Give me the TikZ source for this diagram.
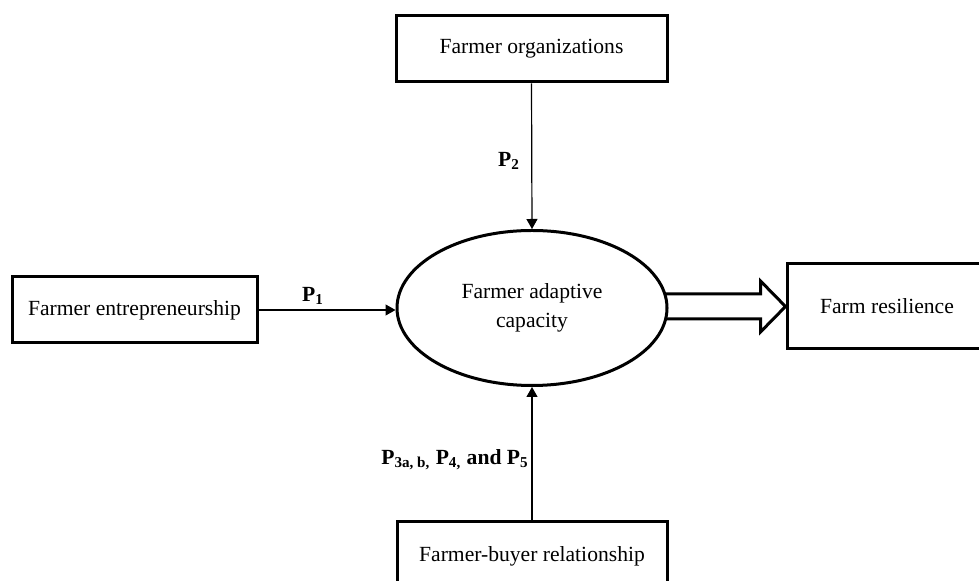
\documentclass[tikz,border=0pt]{standalone}
\usepackage{fontspec}
\setmainfont{Liberation Serif}
\usetikzlibrary{calc, positioning, shapes.geometric, arrows.meta, backgrounds}

\begin{document}
\begin{tikzpicture}[x=0.5pt, y=-0.5pt,
  box/.style={draw, line width=1.5pt, fill=white, inner sep=0pt, font=\fontsize{10.8}{14.5}\selectfont},
  ell/.style={draw, ellipse, line width=1.5pt, fill=white, inner sep=0pt, align=center, minimum width=135pt, minimum height=77.5pt, font=\fontsize{10.8}{14.5}\selectfont},
  lbl/.style={font=\fontsize{10.8}{13}\selectfont\bfseries, inner sep=0pt},
  link/.style={line width=0.6pt, -{Triangle[length=5pt, width=5.5pt]}},
  bigarrow/.style={line width=1.5pt, line join=miter, fill=white}]
\useasboundingbox (0,0) rectangle (979,581);
\node[ell] (cap) at (532,308) {Farmer adaptive\\capacity};
\node[box, minimum width=122.5pt, minimum height=33pt] (ent) at (134.5,310) {Farmer entrepreneurship};
\node[box, minimum width=135.5pt, minimum height=33pt] (org) at (531.5,49) {Farmer organizations};
\node[box, minimum width=100pt, minimum height=42.5pt] (res) at (887,306.5) {Farm resilience};
\node[box, minimum width=135pt, minimum height=34pt] (buy) at (532,556) {Farmer-buyer relationship};
% connectors
\draw[link] (ent.east) -- (ent.east -| cap.west);
\draw[link] (org.south) -- (cap.north);
\draw[link] (buy.north) -- (cap.south);
\coordinate (tip) at (res.west);
\begin{scope}[on background layer]
\draw[bigarrow] ($(tip -| cap.east)+(-6pt,6.25pt)$) -- ($(tip)+(-12.5pt,6.25pt)$) -- ($(tip)+(-12.5pt,12.75pt)$) -- (tip) -- ($(tip)+(-12.5pt,-12.75pt)$) -- ($(tip)+(-12.5pt,-6.25pt)$) -- ($(tip -| cap.east)+(-6pt,-6.25pt)$) -- cycle;
\end{scope}
% labels
\node[lbl] (p1) at (313,296) {P\textsubscript{1}};
\node[lbl] (p2) at (509,161) {P\textsubscript{2}};
\node[lbl] (p3) at (455,460) {P\textsubscript{3a, b,} P\textsubscript{4,} and P\textsubscript{5}};
\end{tikzpicture}
\end{document}
